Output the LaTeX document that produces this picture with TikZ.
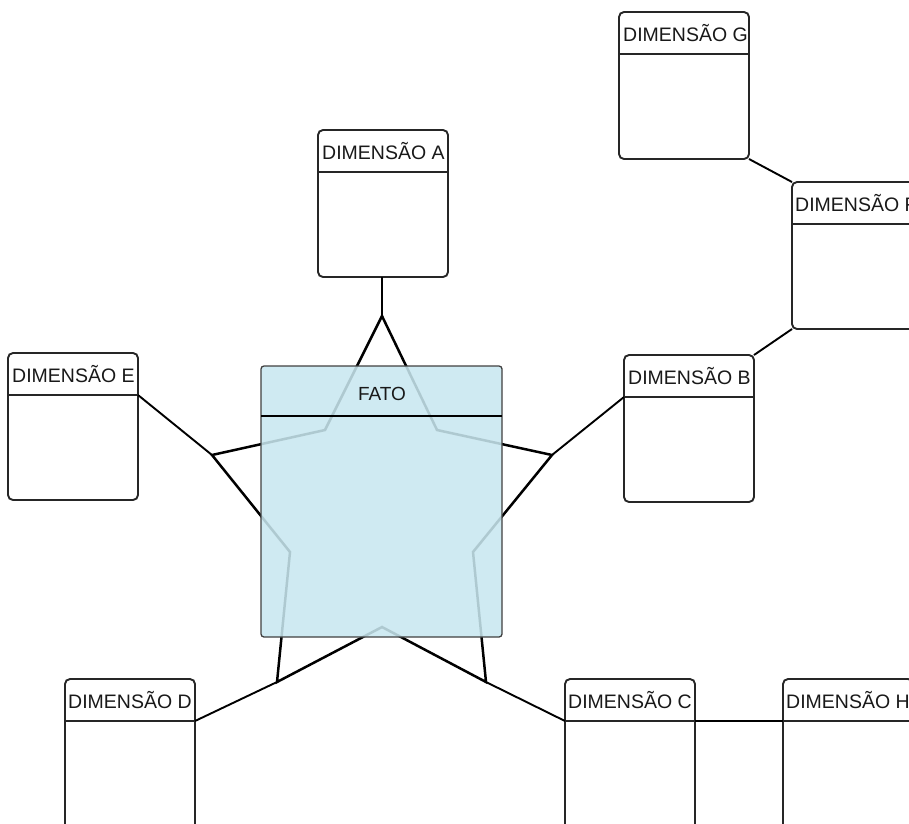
\documentclass[tikz,border=0pt]{standalone}
\usepackage{fontspec}
\setmainfont{Liberation Sans}
\begin{document}
\begin{tikzpicture}[x=1pt,y=-1pt,
  dim/.style={draw=black!85, line width=1.9pt, rounded corners=5pt,
    minimum width=130pt, minimum height=147pt, anchor=north west,
    inner sep=0pt, outer sep=0pt, fill=white,
    path picture={\draw[line width=1.6pt, black!85]
      ([yshift=-42pt]path picture bounding box.north west) --
      ([yshift=-42pt]path picture bounding box.north east);}},
  ttl/.style={anchor=base west, font=\fontsize{19.5}{20}\selectfont,
    text=black!90, inner sep=0pt},
  link/.style={line width=1.9pt, black},
  starline/.style={line width=2.5pt, black, line join=miter}]
\useasboundingbox (0,0) rectangle (909,823);
\clip (0,0) rectangle (909,823);

% star behind the fact table
\coordinate (sT)  at (382,316);
\coordinate (sR)  at (552,455);
\coordinate (sBR) at (486,682);
\coordinate (sBL) at (277,682);
\coordinate (sL)  at (212,455);
\draw[starline] (sT) -- (437,430) -- (sR) -- (473,552) -- (sBR) -- (382,627)
  -- (sBL) -- (290,552) -- (sL) -- (325,430) -- cycle;

% fact table
\definecolor{factfill}{RGB}{200,231,240}
\node (fato) [anchor=north west, minimum width=241pt, minimum height=271pt,
  rounded corners=3pt, inner sep=0pt, outer sep=0pt,
  fill=factfill, fill opacity=0.87, draw=black!75, line width=1.3pt]
  at (261,366) {};
\draw[line width=2pt, black] ([yshift=-50pt]fato.north west) -- ([yshift=-50pt]fato.north east);
\node (fatoT) [anchor=base, font=\fontsize{19}{20}\selectfont, text=black!90, inner sep=0pt]
  at (382,400) {FATO};

% dimension tables
\node (A) [dim] at (318,130) {};
\node (G) [dim] at (619,12) {};
\node (F) [dim] at (792,182) {};
\node (B) [dim] at (624,355) {};
\node (E) [dim] at (8,353) {};
\node (D) [dim, minimum height=170pt] at (65,679) {};
\node (C) [dim, minimum height=170pt] at (565,679) {};
\node (H) [dim, minimum height=170pt] at (783,679) {};

\node (At) [ttl] at ([xshift=4pt,yshift=-29pt]A.north west) {DIMENSÃO A};
\node (Gt) [ttl] at ([xshift=4pt,yshift=-29pt]G.north west) {DIMENSÃO G};
\node (Ft) [ttl] at ([xshift=3pt,yshift=-29pt]F.north west) {DIMENSÃO F};
\node (Bt) [ttl] at ([xshift=4pt,yshift=-29pt]B.north west) {DIMENSÃO B};
\node (Et) [ttl] at ([xshift=4pt,yshift=-29pt]E.north west) {DIMENSÃO E};
\node (Dt) [ttl] at ([xshift=3pt,yshift=-29pt]D.north west) {DIMENSÃO D};
\node (Ct) [ttl] at ([xshift=3pt,yshift=-29pt]C.north west) {DIMENSÃO C};
\node (Ht) [ttl] at ([xshift=3pt,yshift=-29pt]H.north west) {DIMENSÃO H};

% connectors
\draw[link] (A.south -| sT) -- (sT);
\draw[link] ([yshift=-42pt]E.north east) -- (sL);
\draw[link] ([yshift=-42pt]B.north west) -- (sR);
\draw[link] ([yshift=-42pt]D.north east) -- (sBL);
\draw[link] ([yshift=-42pt]C.north west) -- (sBR);
\draw[link, line width=1.5pt] ([yshift=-42pt]C.north east) -- ([yshift=-42pt]H.north west);
\draw[link] (G.south east) -- (F.north west);
\draw[link] (F.south west) -- (B.north east);
\end{tikzpicture}
\end{document}
